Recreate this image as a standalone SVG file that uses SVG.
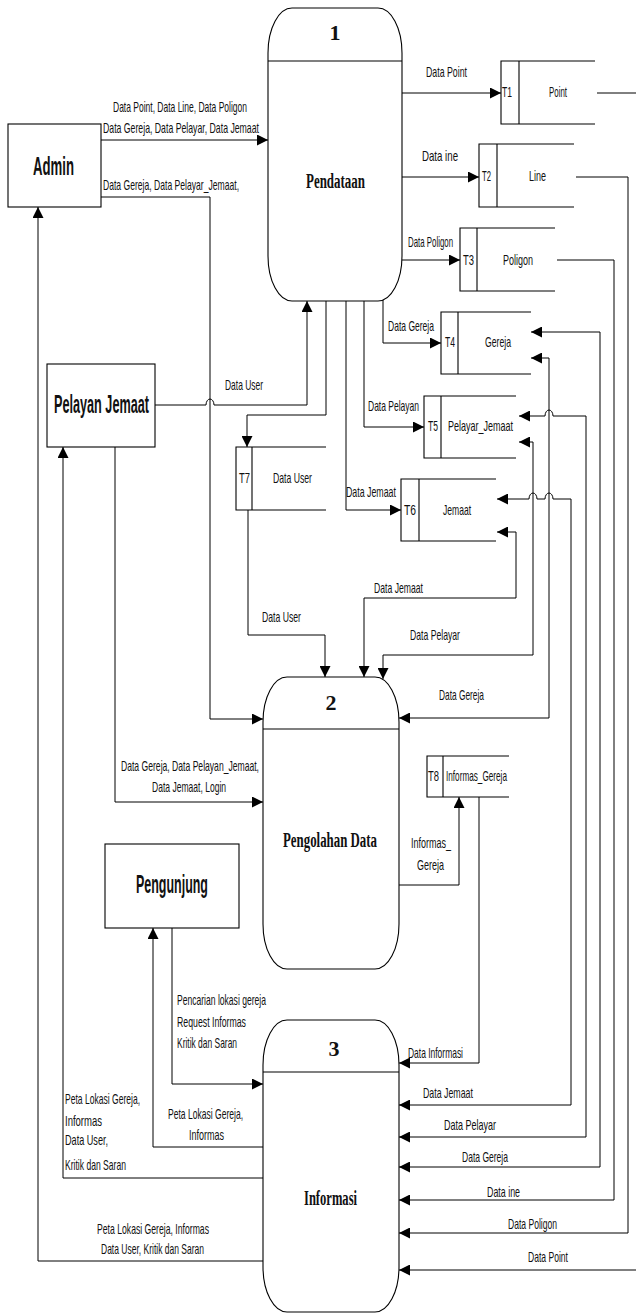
<svg xmlns="http://www.w3.org/2000/svg" width="636" height="1313" viewBox="0 0 636 1313">
<style>
  .bg{fill:#fff}
  .shape{fill:#fff;stroke:#000;stroke-width:1.1}
  .store{fill:none;stroke:#000;stroke-width:1.1}
  .flow{fill:none;stroke:#000;stroke-width:1}
  .lbl{font-family:"Liberation Sans",Arial,sans-serif;font-size:14px;fill:#111}
  .ent{font-family:"Liberation Sans",Arial,sans-serif;font-size:26px;font-weight:bold;fill:#111}
  .pnum{font-family:"Liberation Serif","Times New Roman",serif;font-size:22px;font-weight:bold;fill:#111;text-anchor:middle}
  .pname{font-family:"Liberation Serif","Times New Roman",serif;font-size:21px;font-weight:bold;fill:#111}
</style>
<defs>
  <marker id="ah" viewBox="0 0 11 11" refX="11" refY="5.5" markerWidth="11" markerHeight="11" markerUnits="userSpaceOnUse" orient="auto-start-reverse">
    <path d="M0,0 L11,5.5 L0,11 z" fill="#000"/>
  </marker>
</defs>
<rect class="bg" x="0" y="0" width="636" height="1313"/>

<!-- data flows (labels use a narrow horizontal scale) -->
<g id="connectors">
  <path class="flow" d="M101,140 H268" marker-end="url(#ah)"/>
  <path class="flow" d="M101,197 H210 V719 H263" marker-end="url(#ah)"/>
  <path class="flow" d="M263,1261 H38 V207" marker-end="url(#ah)"/>
  <path class="flow" d="M155,405 H206 A4,6 0 0 1 214,405 H307 V301" marker-end="url(#ah)"/>
  <path class="flow" d="M326,301 V415 H247 V447" marker-end="url(#ah)"/>
  <path class="flow" d="M248,510 V635 H325 V677" marker-end="url(#ah)"/>
  <path class="flow" d="M346,301 V510 H401" marker-end="url(#ah)"/>
  <path class="flow" d="M364,301 V427 H424" marker-end="url(#ah)"/>
  <path class="flow" d="M383,300 V343 H441" marker-end="url(#ah)"/>
  <path class="flow" d="M402,93 H501" marker-end="url(#ah)"/>
  <path class="flow" d="M402,177 H479" marker-end="url(#ah)"/>
  <path class="flow" d="M402,260 H460" marker-end="url(#ah)"/>
  <path class="flow" d="M597,93 H642 V1270 H399" marker-end="url(#ah)"/>
  <path class="flow" d="M576,177 H628 V1233 H399" marker-end="url(#ah)"/>
  <path class="flow" d="M557,260 H614 V1200 H399" marker-end="url(#ah)"/>
  <path class="flow" d="M531,332 H600 V1167 H399" marker-start="url(#ah)" marker-end="url(#ah)"/>
  <path class="flow" d="M519,416 H545 A4,6 0 0 1 553,416 H586 V1137 H399" marker-start="url(#ah)" marker-end="url(#ah)"/>
  <path class="flow" d="M497,499 H529 A4,6 0 0 1 537,499 H545 A4,6 0 0 1 553,499 H571 V1105 H399" marker-start="url(#ah)" marker-end="url(#ah)"/>
  <path class="flow" d="M531,358 H549 V718 H399" marker-start="url(#ah)" marker-end="url(#ah)"/>
  <path class="flow" d="M519,442 H533 V655 H383 V679" marker-start="url(#ah)" marker-end="url(#ah)"/>
  <path class="flow" d="M497,532 H516 V598 H364 V677" marker-start="url(#ah)" marker-end="url(#ah)"/>
  <path class="flow" d="M399,885 H459 V797" marker-end="url(#ah)"/>
  <path class="flow" d="M479,797 V1063 H399" marker-end="url(#ah)"/>
  <path class="flow" d="M115,447 V802 H263" marker-end="url(#ah)"/>
  <path class="flow" d="M263,1178 H63 V447" marker-end="url(#ah)"/>
  <path class="flow" d="M172,928 V1084 H263" marker-end="url(#ah)"/>
  <path class="flow" d="M263,1147 H153 V928" marker-end="url(#ah)"/>

  <text class="lbl" transform="translate(113,112) scale(.62,1)" textLength="216.1" lengthAdjust="spacingAndGlyphs">Data Point, Data Line, Data Poligon</text>
  <text class="lbl" transform="translate(103,133) scale(.62,1)" textLength="251.6" lengthAdjust="spacingAndGlyphs">Data Gereja, Data Pelayar, Data Jemaat</text>
  <text class="lbl" transform="translate(103,190) scale(.62,1)" textLength="219.4" lengthAdjust="spacingAndGlyphs">Data Gereja, Data Pelayar_Jemaat,</text>
  <text class="lbl" transform="translate(426,77) scale(.62,1)" textLength="66.1" lengthAdjust="spacingAndGlyphs">Data Point</text>
  <text class="lbl" transform="translate(422,161) scale(.62,1)" textLength="58.1" lengthAdjust="spacingAndGlyphs">Data ine</text>
  <text class="lbl" transform="translate(408,247) scale(.62,1)" textLength="72.6" lengthAdjust="spacingAndGlyphs">Data Poligon</text>
  <text class="lbl" transform="translate(388,331) scale(.62,1)" textLength="74.2" lengthAdjust="spacingAndGlyphs">Data Gereja</text>
  <text class="lbl" transform="translate(368,411) scale(.62,1)" textLength="82.3" lengthAdjust="spacingAndGlyphs">Data Pelayan</text>
  <text class="lbl" transform="translate(346,497) scale(.62,1)" textLength="80.6" lengthAdjust="spacingAndGlyphs">Data Jemaat</text>
  <text class="lbl" transform="translate(225,390) scale(.62,1)" textLength="61.3" lengthAdjust="spacingAndGlyphs">Data User</text>
  <text class="lbl" transform="translate(262,622) scale(.62,1)" textLength="62.9" lengthAdjust="spacingAndGlyphs">Data User</text>
  <text class="lbl" transform="translate(374,593) scale(.62,1)" textLength="79" lengthAdjust="spacingAndGlyphs">Data Jemaat</text>
  <text class="lbl" transform="translate(410,640) scale(.62,1)" textLength="80.6" lengthAdjust="spacingAndGlyphs">Data Pelayar</text>
  <text class="lbl" transform="translate(439,700) scale(.62,1)" textLength="72.6" lengthAdjust="spacingAndGlyphs">Data Gereja</text>
  <text class="lbl" transform="translate(121,771) scale(.62,1)" textLength="222.6" lengthAdjust="spacingAndGlyphs">Data Gereja, Data Pelayan_Jemaat,</text>
  <text class="lbl" transform="translate(152,792) scale(.62,1)" textLength="119.4" lengthAdjust="spacingAndGlyphs">Data Jemaat, Login</text>
  <text class="lbl" transform="translate(411,848) scale(.62,1)" textLength="64.5" lengthAdjust="spacingAndGlyphs">Informas_</text>
  <text class="lbl" transform="translate(417,870) scale(.62,1)" textLength="43.5" lengthAdjust="spacingAndGlyphs">Gereja</text>
  <text class="lbl" transform="translate(177,1005) scale(.62,1)" textLength="143.5" lengthAdjust="spacingAndGlyphs">Pencarian lokasi gereja</text>
  <text class="lbl" transform="translate(177,1027) scale(.62,1)" textLength="111.3" lengthAdjust="spacingAndGlyphs">Request Informas</text>
  <text class="lbl" transform="translate(177,1048) scale(.62,1)" textLength="96.8" lengthAdjust="spacingAndGlyphs">Kritik dan Saran</text>
  <text class="lbl" transform="translate(65,1104) scale(.62,1)" textLength="121" lengthAdjust="spacingAndGlyphs">Peta Lokasi Gereja,</text>
  <text class="lbl" transform="translate(65,1126) scale(.62,1)" textLength="59.7" lengthAdjust="spacingAndGlyphs">Informas</text>
  <text class="lbl" transform="translate(65,1145) scale(.62,1)" textLength="69.4" lengthAdjust="spacingAndGlyphs">Data User,</text>
  <text class="lbl" transform="translate(65,1170) scale(.62,1)" textLength="98.4" lengthAdjust="spacingAndGlyphs">Kritik dan Saran</text>
  <text class="lbl" transform="translate(168,1119) scale(.62,1)" textLength="121" lengthAdjust="spacingAndGlyphs">Peta Lokasi Gereja,</text>
  <text class="lbl" transform="translate(189,1140) scale(.62,1)" textLength="56.5" lengthAdjust="spacingAndGlyphs">Informas</text>
  <text class="lbl" transform="translate(97,1234) scale(.62,1)" textLength="180.6" lengthAdjust="spacingAndGlyphs">Peta Lokasi Gereja, Informas</text>
  <text class="lbl" transform="translate(101,1254) scale(.62,1)" textLength="166.1" lengthAdjust="spacingAndGlyphs">Data User, Kritik dan Saran</text>
  <text class="lbl" transform="translate(408,1058) scale(.62,1)" textLength="88.7" lengthAdjust="spacingAndGlyphs">Data Informasi</text>
  <text class="lbl" transform="translate(423,1098) scale(.62,1)" textLength="80.6" lengthAdjust="spacingAndGlyphs">Data Jemaat</text>
  <text class="lbl" transform="translate(444,1130) scale(.62,1)" textLength="83.9" lengthAdjust="spacingAndGlyphs">Data Pelayar</text>
  <text class="lbl" transform="translate(462,1162) scale(.62,1)" textLength="74.2" lengthAdjust="spacingAndGlyphs">Data Gereja</text>
  <text class="lbl" transform="translate(487,1197) scale(.62,1)" textLength="53.2" lengthAdjust="spacingAndGlyphs">Data ine</text>
  <text class="lbl" transform="translate(508,1229) scale(.62,1)" textLength="79" lengthAdjust="spacingAndGlyphs">Data Poligon</text>
  <text class="lbl" transform="translate(528,1262) scale(.62,1)" textLength="64.5" lengthAdjust="spacingAndGlyphs">Data Point</text>
</g>

<!-- external entities -->
<g id="admin">
  <rect class="shape" x="8" y="124" width="93" height="83"/>
  <text class="ent" transform="translate(33,175) scale(.49,1)" textLength="83.7" lengthAdjust="spacingAndGlyphs">Admin</text>
</g>
<g id="pelayan-jemaat">
  <rect class="shape" x="47" y="364" width="108" height="83"/>
  <text class="ent" transform="translate(54,413) scale(.49,1)" textLength="193.9" lengthAdjust="spacingAndGlyphs">Pelayan Jemaat</text>
</g>
<g id="pengunjung">
  <rect class="shape" x="105" y="844" width="134" height="84"/>
  <text class="ent" transform="translate(136,893) scale(.49,1)" textLength="146.9" lengthAdjust="spacingAndGlyphs">Pengunjung</text>
</g>

<!-- processes -->
<g id="p1-pendataan">
  <path class="shape" d="M292,8 H378 A24,45 0 0 1 402,53 V256 A24,45 0 0 1 378,301 H292 A24,45 0 0 1 268,256 V53 A24,45 0 0 1 292,8 Z"/>
  <line class="store" x1="268" y1="61" x2="402" y2="61"/>
  <text class="pnum" x="335" y="40">1</text>
  <text class="pname" transform="translate(306,188) scale(.61,1)" textLength="96.7" lengthAdjust="spacingAndGlyphs">Pendataan</text>
</g>
<g id="p2-pengolahan">
  <path class="shape" d="M287,677 H375 A24,45 0 0 1 399,722 V924 A24,45 0 0 1 375,969 H287 A24,45 0 0 1 263,924 V722 A24,45 0 0 1 287,677 Z"/>
  <line class="store" x1="263" y1="729" x2="399" y2="729"/>
  <text class="pnum" x="331" y="710">2</text>
  <text class="pname" transform="translate(283,847) scale(.61,1)" textLength="154.1" lengthAdjust="spacingAndGlyphs">Pengolahan Data</text>
</g>
<g id="p3-informasi">
  <path class="shape" d="M287,1020 H375 A24,45 0 0 1 399,1065 V1267 A24,45 0 0 1 375,1312 H287 A24,45 0 0 1 263,1267 V1065 A24,45 0 0 1 287,1020 Z"/>
  <line class="store" x1="263" y1="1072" x2="399" y2="1072"/>
  <text class="pnum" x="334" y="1056">3</text>
  <text class="pname" transform="translate(304,1205) scale(.61,1)" textLength="86.9" lengthAdjust="spacingAndGlyphs">Informasi</text>
</g>

<!-- data stores -->
<g id="t1-point">
  <path class="store" d="M595,61 H501 V124 H595 M519,61 V124"/>
  <text class="lbl" transform="translate(502,97) scale(.62,1)" textLength="16.1" lengthAdjust="spacingAndGlyphs">T1</text>
  <text class="lbl" transform="translate(549,97) scale(.62,1)" textLength="29" lengthAdjust="spacingAndGlyphs">Point</text>
</g>
<g id="t2-line">
  <path class="store" d="M574,144 H479 V207 H574 M497,144 V207"/>
  <text class="lbl" transform="translate(482,181) scale(.62,1)" textLength="14.5" lengthAdjust="spacingAndGlyphs">T2</text>
  <text class="lbl" transform="translate(529,181) scale(.62,1)" textLength="27.4" lengthAdjust="spacingAndGlyphs">Line</text>
</g>
<g id="t3-poligon">
  <path class="store" d="M555,228 H460 V291 H555 M477,228 V291"/>
  <text class="lbl" transform="translate(463,265) scale(.62,1)" textLength="17.7" lengthAdjust="spacingAndGlyphs">T3</text>
  <text class="lbl" transform="translate(503,265) scale(.62,1)" textLength="48.4" lengthAdjust="spacingAndGlyphs">Poligon</text>
</g>
<g id="t4-gereja">
  <path class="store" d="M531,312 H441 V374 H531 M458,312 V374"/>
  <text class="lbl" transform="translate(445,347) scale(.62,1)" textLength="16.1" lengthAdjust="spacingAndGlyphs">T4</text>
  <text class="lbl" transform="translate(485,347) scale(.62,1)" textLength="41.9" lengthAdjust="spacingAndGlyphs">Gereja</text>
</g>
<g id="t5-pelayan-jemaat">
  <path class="store" d="M516,396 H424 V458 H516 M441,396 V458"/>
  <text class="lbl" transform="translate(428,431) scale(.62,1)" textLength="16.1" lengthAdjust="spacingAndGlyphs">T5</text>
  <text class="lbl" transform="translate(448,431) scale(.62,1)" textLength="104.8" lengthAdjust="spacingAndGlyphs">Pelayar_Jemaat</text>
</g>
<g id="t6-jemaat">
  <path class="store" d="M496,479 H401 V541 H496 M419,479 V541"/>
  <text class="lbl" transform="translate(404,515) scale(.62,1)" textLength="19.4" lengthAdjust="spacingAndGlyphs">T6</text>
  <text class="lbl" transform="translate(443,515) scale(.62,1)" textLength="45.2" lengthAdjust="spacingAndGlyphs">Jemaat</text>
</g>
<g id="t7-data-user">
  <path class="store" d="M326,447 H236 V510 H326 M252,447 V510"/>
  <text class="lbl" transform="translate(239,483) scale(.62,1)" textLength="17.7" lengthAdjust="spacingAndGlyphs">T7</text>
  <text class="lbl" transform="translate(273,483) scale(.62,1)" textLength="62.9" lengthAdjust="spacingAndGlyphs">Data User</text>
</g>
<g id="t8-informasi-gereja">
  <path class="store" d="M509,756 H427 V797 H509 M443,756 V797"/>
  <text class="lbl" transform="translate(428,781) scale(.62,1)" textLength="17.7" lengthAdjust="spacingAndGlyphs">T8</text>
  <text class="lbl" transform="translate(446,781) scale(.62,1)" textLength="98.4" lengthAdjust="spacingAndGlyphs">Informas_Gereja</text>
</g>
</svg>
